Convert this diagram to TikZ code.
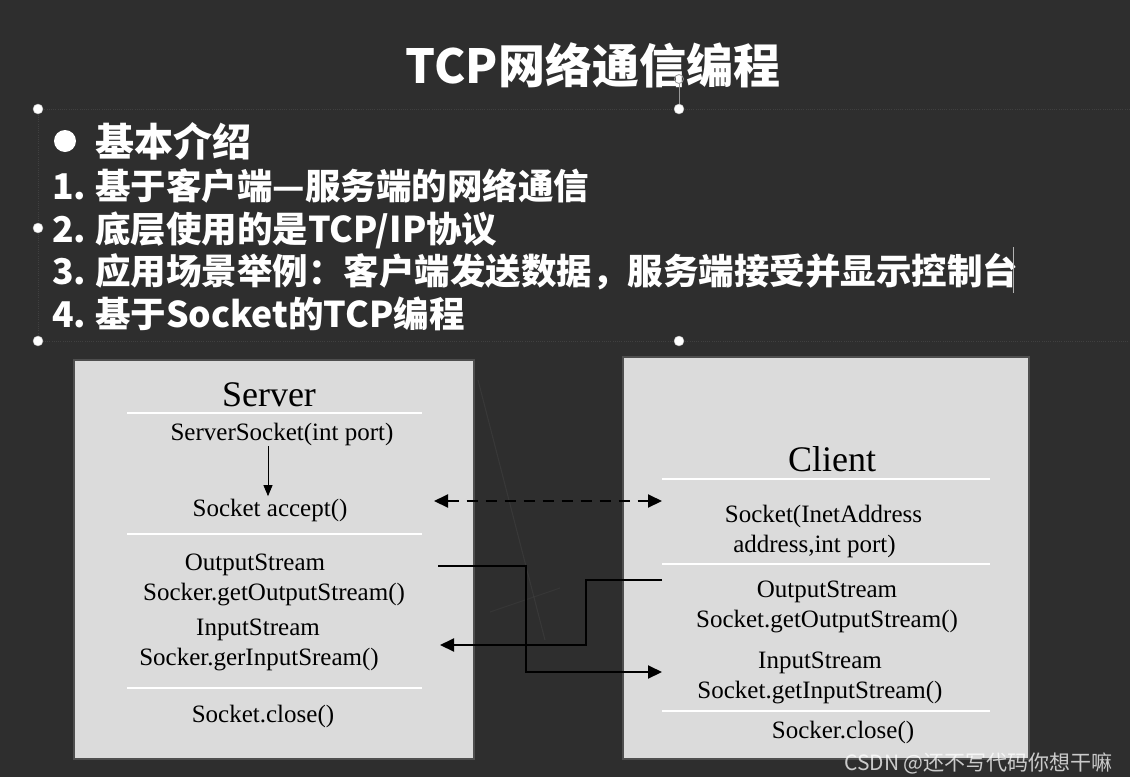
\documentclass[tikz,border=0pt]{standalone}
\usepackage{fontspec}
\newfontfamily\cjkfont{Noto Sans CJK SC}
\newfontfamily\timesfont{Liberation Serif}
\usepackage{xcolor}
\definecolor{chalkboard}{RGB}{46,46,46}
\definecolor{panelgray}{RGB}{219,219,219}
\definecolor{panelborder}{RGB}{78,78,78}
\usetikzlibrary{positioning,arrows.meta,calc}

\tikzset{
  panel/.style={draw=panelborder, line width=1.5pt, fill=panelgray, inner sep=0pt},
  rule/.style={white, line width=1.2pt},
  slidetext/.style={text=white, anchor=base west, inner sep=0pt,
    font=\cjkfont\bfseries\fontsize{35.5}{40}\selectfont},
  boxtext/.style={text=black, anchor=base, inner sep=0pt,
    font=\timesfont\fontsize{25}{28}\selectfont},
  boxtitle/.style={boxtext, font=\timesfont\fontsize{36}{40}\selectfont},
  flow/.style={line width=2pt, -{Triangle[length=14pt,width=13pt]}},
  handle/.style={circle, fill=white, draw=gray!60, line width=0.4pt,
    minimum size=10pt, inner sep=0pt},
  guide/.style={black!75, line width=0.8pt, dash pattern=on 1pt off 1.2pt},
}

\begin{document}
\begin{tikzpicture}[x=1pt, y=-1pt]
  % Fond ardoise
  \useasboundingbox (0,0) rectangle (1130,777);
  \fill[chalkboard] (0,0) rectangle (1130,777);
  \draw[white, opacity=0.05, line width=1pt] (478,380) -- (545,640);
  \draw[white, opacity=0.04, line width=1pt] (490,612) -- (560,588);

  % Titre
  \node[text=white, anchor=base, inner sep=0pt,
        font=\cjkfont\bfseries\fontsize{47}{50}\selectfont]
    (title) at (593,83.5) {TCP网络通信编程};

  % Cadre pointillé de la zone de texte, avec ses poignées
  \draw[guide] (1130,109) -- (38,109) -- (38,341) -- (1130,341);
  \draw[gray!80, line width=0.6pt] (679,84) -- (679,109);
  \draw[gray!80, line width=0.8pt] (679,79) circle (4.5pt);
  \node[handle] (hTL) at (38,109) {};
  \node[handle] (hTM) at (679,109) {};
  \node[handle] (hML) at (38,228) {};
  \node[handle] (hBL) at (38,341) {};
  \node[handle] (hBM) at (679,341) {};

  % Liste
  \node[circle, fill=white, minimum size=22pt, inner sep=0pt] (dot) at (65,141) {};
  \node[slidetext, font=\cjkfont\bfseries\fontsize{39}{42}\selectfont]
    (intro) at (95,156) {基本介绍};
  \node[slidetext] (item1) at (52,199) {\makebox[43pt][l]{1.}基于客户端—服务端的网络通信};
  \node[slidetext] (item2) at (52,242) {\makebox[43pt][l]{2.}底层使用的是TCP/IP协议};
  \node[slidetext] (item3) at (52,284) {\makebox[43pt][l]{3.}应用场景举例：客户端发送数据，服务端接受并显示控制台};
  \node[slidetext] (item4) at (52,327) {\makebox[43pt][l]{4.}基于Socket的TCP编程};
  \draw[gray!60, line width=0.6pt] (1013,247) -- (1013,293);

  % Boîte Server
  \node[panel, minimum width=400pt, minimum height=399pt] (srv) at (274,559.5) {};
  \foreach \y in {413,534,688}
    \draw[rule] (127,\y) -- (422,\y);
  \node[boxtitle] (srvtitle) at (269,406.7) {Server};
  \node[boxtext] (srvsock) at (282,440.7) {ServerSocket(int port)};
  \node[boxtext] (accept) at (270,516.7) {Socket accept()};
  \node[boxtext] (srvout) at (255,570.7) {OutputStream};
  \node[boxtext] (srvoutget) at (274,600) {Socker.getOutputStream()};
  \node[boxtext] (srvin) at (258,635.7) {InputStream};
  \node[boxtext] (srvinget) at (259,665) {Socker.gerInputSream()};
  \node[boxtext] (srvclose) at (263,722.7) {Socket.close()};
  \draw[line width=0.8pt, -{Triangle[length=11pt,width=9pt]}, shorten >=3pt]
    ([xshift=-14pt]srvsock.south) -- ([xshift=-2pt]accept.north);

  % Boîte Client
  \node[panel, minimum width=406pt, minimum height=402pt] (cli) at (826,558) {};
  \foreach \y in {479,564,711}
    \draw[rule] (662,\y) -- (990,\y);
  \node[boxtitle] (clititle) at (832,471.6) {Client};
  \node[boxtext] (clisock) at (823.5,522.3) {Socket(InetAddress};
  \node[boxtext] (cliaddr) at (814.5,552) {address,int port)};
  \node[boxtext] (cliout) at (827,597.6) {OutputStream};
  \node[boxtext] (clioutget) at (827,627.7) {Socket.getOutputStream()};
  \node[boxtext] (cliin) at (820,668.6) {InputStream};
  \node[boxtext] (cliinget) at (820,698.6) {Socket.getInputStream()};
  \node[boxtext] (cliclose) at (843,738.5) {Socker.close()};

  % Liaisons entre les deux boîtes
  \coordinate (acceptR) at (434,501);
  \coordinate (clientL) at (662,501);
  \coordinate (srvOutR) at (438,566);
  \coordinate (cliInL) at (662,672);
  \coordinate (cliOutL) at (662,580);
  \coordinate (srvInR) at (440,645);
  \draw[flow, {Triangle[length=14pt,width=13pt]}-{Triangle[length=14pt,width=13pt]},
        dash pattern=on 11pt off 8pt] (acceptR) -- (clientL);
  \draw[flow] (srvOutR) -- ++(88,0) |- (cliInL);
  \draw[flow] (cliOutL) -- ++(-76,0) |- (srvInR);

  % Filigrane
  \node[text=white, opacity=0.75, anchor=base east, inner sep=0pt,
        font=\cjkfont\fontsize{21}{24}\selectfont]
    (mark) at (1113,770) {CSDN @还不写代码你想干嘛};
\end{tikzpicture}
\end{document}
